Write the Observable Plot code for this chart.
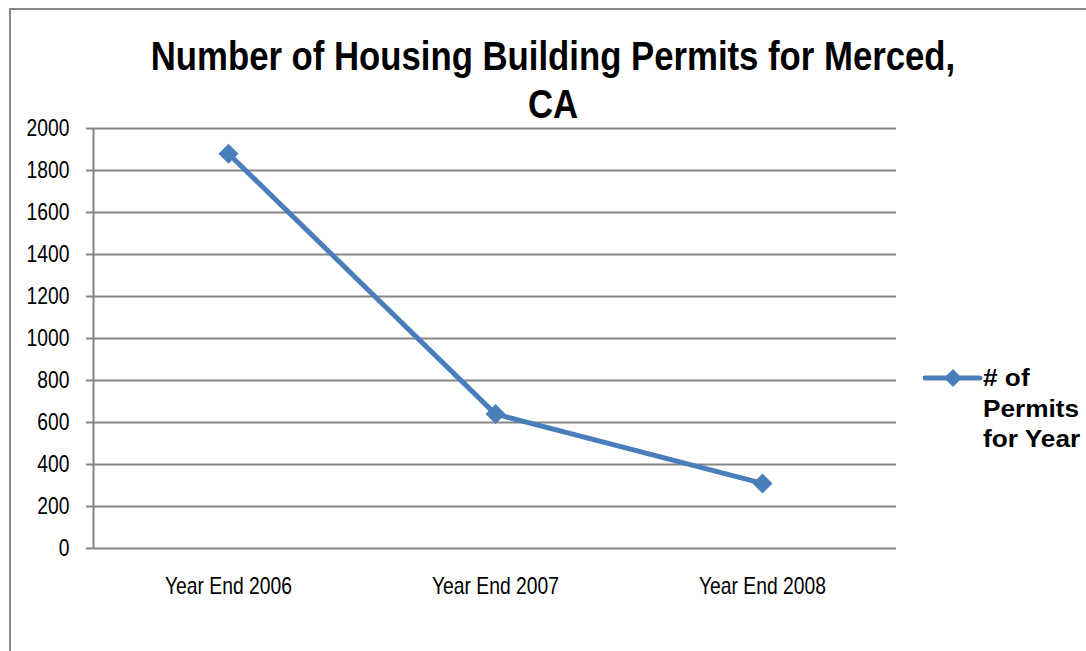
<!DOCTYPE html>
<html>
<head>
<meta charset="utf-8">
<script src="https://cdn.jsdelivr.net/npm/d3@7"></script>
<script src="https://cdn.jsdelivr.net/npm/@observablehq/plot@0.6"></script>
<style>
  html, body { margin: 0; padding: 0; background: #fff; width: 1086px; height: 651px; overflow: hidden; }
  #frame { position: absolute; left: 9px; top: 8px; width: 1200px; height: 800px;
           border-left: 2px solid #888; border-top: 2px solid #888; }
  #chart { position: absolute; left: 0; top: 0; }
  #title { position: absolute; left: 53px; width: 1000px; top: 0; height: 130px;
           font-family: "Liberation Sans", Arial, sans-serif; font-weight: bold;
           font-size: 40px; line-height: 48px; color: #000; transform: scaleX(0.868); transform-origin: 500px 0; }
  #title div { position: absolute; left: 0; width: 1000px; text-align: center; white-space: nowrap; }
  #legend { position: absolute; left: 923px; top: 362px; }
  #legendText { position: absolute; left: 983px; top: 363px; font-family: "Liberation Sans", Arial, sans-serif;
                font-weight: bold; font-size: 23px; line-height: 30.5px; color: #000;
                transform: scaleX(1.14); transform-origin: 0 0; white-space: nowrap; }
</style>
</head>
<body>
<div id="frame"></div>
<div id="chart"></div>
<div id="title"><div style="top:32px">Number of Housing Building Permits for Merced,</div><div style="top:80px">CA</div></div>
<svg id="legend" width="60" height="30">
  <line x1="2" y1="16" x2="57" y2="16" stroke="#4a7ebb" stroke-width="5" stroke-linecap="round"></line>
  <path d="M30,7 L39,16 L30,25 L21,16 Z" fill="#4a7ebb"></path>
</svg>
<div id="legendText">#&nbsp;of<br>Permits<br>for Year</div>
<script>
const categories = ["Year End 2006", "Year End 2007", "Year End 2008"];
const permits = [1880, 640, 310];
const yTicks = [0, 200, 400, 600, 800, 1000, 1200, 1400, 1600, 1800, 2000];
const seriesName = "# of Permits for Year";

const data = categories.map((c, i) => ({year: c, value: permits[i]}));

const W = 1086, H = 651;
const mL = 93, mR = 190, mT = 128, mB = 103;
const pw = W - mL - mR, ph = H - mT - mB;

const chart = Plot.plot({
  width: W,
  height: H,
  marginLeft: mL,
  marginRight: mR,
  marginTop: mT,
  marginBottom: mB,
  style: {fontFamily: "'Liberation Sans', Arial, sans-serif", fontSize: "23px", color: "#000", background: "transparent"},
  x: {type: "point", domain: categories, padding: 0.5, label: null},
  y: {domain: [0, 2000], label: null},
  marks: [
    Plot.ruleY(yTicks, {stroke: "#868686", strokeWidth: 2, strokeOpacity: 1}),
    Plot.frame({stroke: "#868686", strokeWidth: 2, strokeOpacity: 1,
      strokeDasharray: `0,${pw + ph + pw},${ph},0`}),
    Plot.axisY({ticks: yTicks, tickSize: 7, tickPadding: 17, stroke: "#868686", strokeWidth: 2, strokeOpacity: 1,
      tickFormat: d => String(d), label: null, fill: "#000"}),
    Plot.axisX({tickSize: 0, tickPadding: 29, label: null, fill: "#000"}),
    Plot.line(data, {x: "year", y: "value", stroke: "#4a7ebb", strokeWidth: 5, strokeLinejoin: "round"}),
    Plot.dot(data, {x: "year", y: "value", symbol: "diamond2", r: 9, fill: "#4a7ebb", stroke: null, title: d => `${seriesName}: ${d.value}`})
  ]
});
// condense the tick labels to match the narrow face of the reference
chart.querySelectorAll('g[aria-label="y-axis tick label"] text, g[aria-label="x-axis tick label"] text').forEach(t => {
  const tr = t.getAttribute("transform") || "";
  t.setAttribute("transform", tr + " scale(0.84,1)");
});
document.getElementById("chart").appendChild(chart);
</script>
</body>
</html>
